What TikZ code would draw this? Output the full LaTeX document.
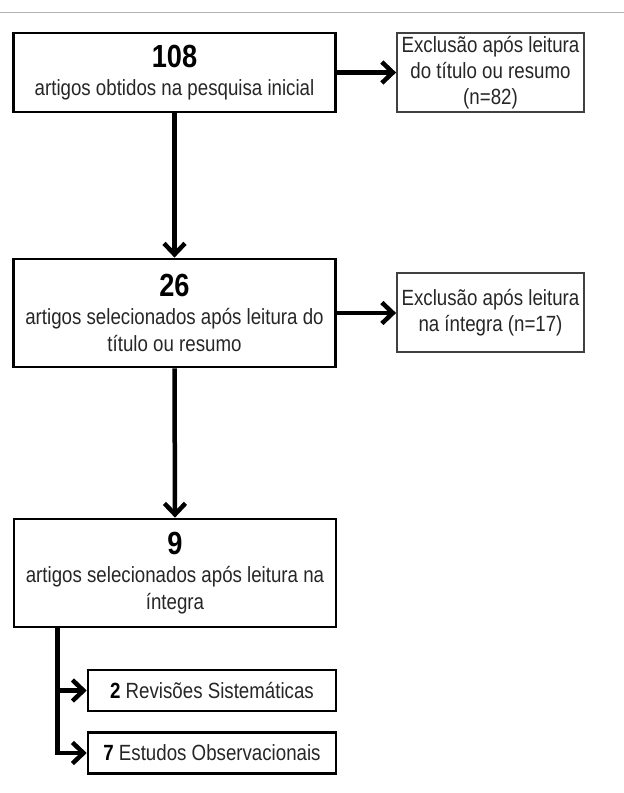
\documentclass[tikz,border=0pt]{standalone}
\usepackage{fontspec}
\setmainfont{Liberation Sans}[FakeStretch=0.85]
\usepackage{tikz}
\usetikzlibrary{arrows.meta,positioning,calc}
\newcommand{\numtxt}{\color{black}\bfseries\fontsize{32}{34}\selectfont}
\begin{document}
\begin{tikzpicture}[x=1pt,y=-1pt,
  mainbox/.style={draw,line width=2.8,minimum width=322,minimum height=79,align=center,inner sep=0,text=black!85,font=\fontsize{22}{27}\selectfont},
  exclbox/.style={draw=black!75,line width=1.8,minimum width=187,minimum height=79,align=center,inner sep=0,text=black!85,font=\fontsize{22}{26}\selectfont},
  subbox/.style={draw,line width=2.6,minimum width=248,minimum height=41,align=center,inner sep=0,text=black!85,font=\fontsize{22}{26}\selectfont},
  flow/.style={line width=4.5,-{Straight Barb[length=11,width=21]}}
]
  \useasboundingbox (0,0) rectangle (624,793);
  \draw[black!30,line width=1] (0,12) -- (624,12);
  \node[mainbox] (found) at (174.5,72.5) {{\numtxt 108}\\[1pt]artigos obtidos na pesquisa inicial};
  \node[exclbox] (exa) at (490.5,72.5) {Exclusão após leitura\\do título ou resumo\\(n=82)};
  \node[mainbox,minimum height=108] (sela) at (174.5,313) {{\numtxt 26}\\[1pt]artigos selecionados após leitura do\\título ou resumo};
  \node[exclbox] (exb) at (490.5,312.5) {Exclusão após leitura\\na íntegra (n=17)};
  \node[mainbox,minimum height=108] (selb) at (175,573) {{\numtxt 9}\\[1pt]artigos selecionados após leitura na\\íntegra};
  \node[subbox] (rev) at (212,690.5) {{\color{black}\textbf{2}} Revisões Sistemáticas};
  \node[subbox] (obs) at (212,753) {{\color{black}\textbf{7}} Estudos Observacionais};
  \draw[flow] (found.east) -- (exa.west);
  \draw[flow] (sela.east) -- (sela.east -| exb.west);
  \draw[flow] (found.south) -- (sela.north);
  \draw[flow] (sela.south) -- (selb.north);
  \draw[flow] ([xshift=45]selb.south west) |- (rev.west);
  \draw[flow] ([xshift=45]selb.south west) |- (obs.west);
\end{tikzpicture}
\end{document}
